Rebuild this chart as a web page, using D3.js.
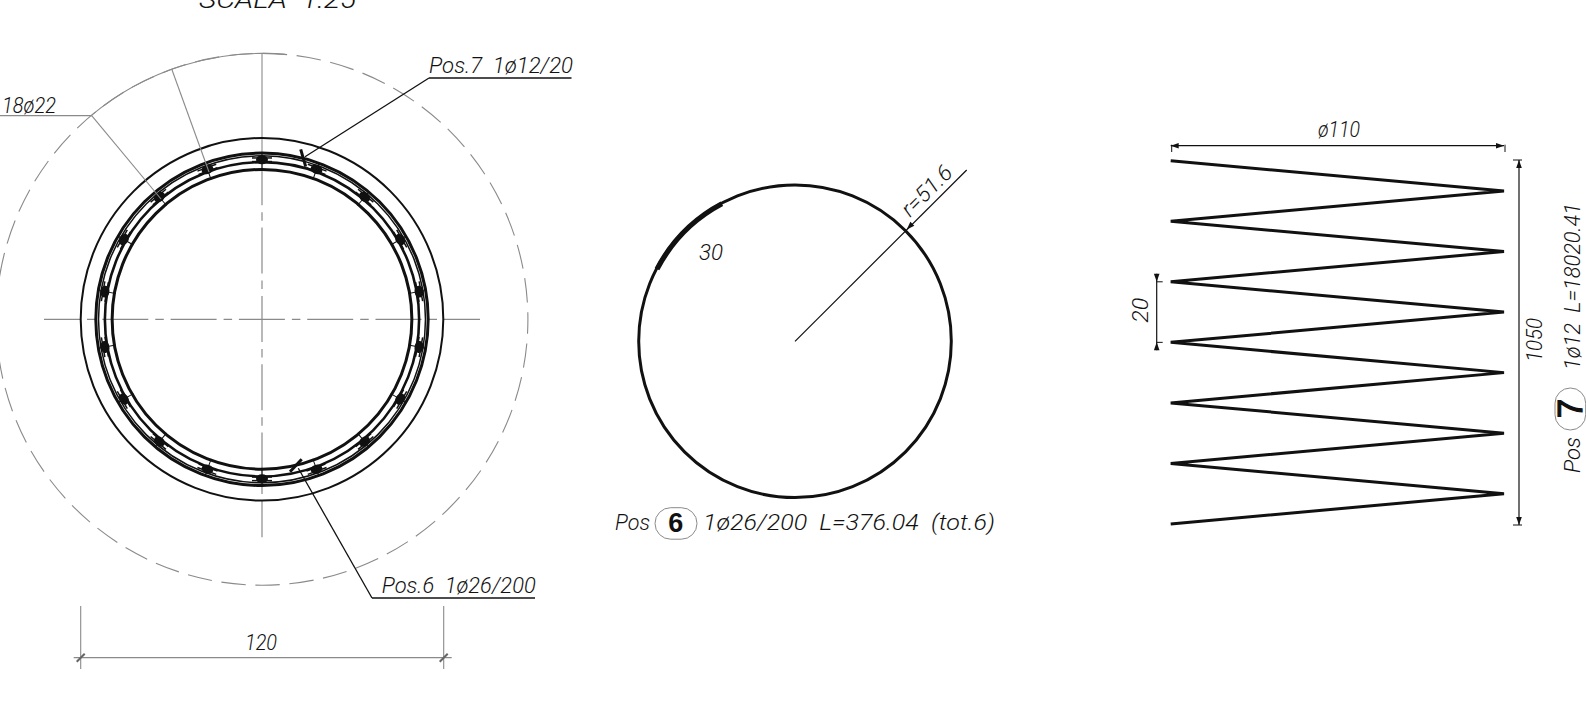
<!DOCTYPE html>
<html>
<head>
<meta charset="utf-8">
<script src="https://cdn.jsdelivr.net/npm/d3@7"></script>
<style>
  html, body { margin: 0; padding: 0; background: #fff; }
  svg { display: block; }
  text { font-family: Roboto, "Liberation Sans", sans-serif; font-style: italic; font-weight: 300; fill: #111; white-space: pre; }
</style>
</head>
<body>
<div id="chart"></div>
<script>
// section of the pile (cm)
var ringRadii = [60, 55, 54.1, 52, 49.6];
var ringWidths = [2, 3, 1.5, 2.6, 3];
var copRadius = 88;
var barRadius = 52.8;
var barAngles = [0, 20, 40, 60, 80, 100, 120, 140, 160, 180, 200, 220, 240, 260, 280, 300, 320, 340];

// stirrup (Pos 6)
var stirrupRadius = 51.6;
var overlapArc = [-62.4, -28];

// spiral (Pos 7)
var spiralX = [0, 110, 0, 110, 0, 110, 0, 110, 0, 110, 0, 110, 0];
var spiralY = [0, 10, 20, 30, 40, 50, 60, 70, 80, 90, 100, 110, 120];

// labels
var titleLabel = "SCALA  1:25";
var barLabel = "18ø22";
var pos7Label = "Pos.7  1ø12/20";
var pos6Label = "Pos.6  1ø26/200";
var widthLabel = "120";
var radiusLabel = "r=51.6";
var arcLabel = "30";
var pos6Caption = "1ø26/200  L=376.04  (tot.6)";
var spiralWidthLabel = "ø110";
var pitchLabel = "20";
var heightLabel = "1050";
var pos7Caption = "1ø12  L=18020.41";

var svgWidth = 1586;
var svgHeight = 702;
var gray = "#8a8a8a";
var black = "#111";

var svg = d3.select("#chart")
    .append("svg")
    .attr("width", svgWidth)
    .attr("height", svgHeight);

function label(g, txt, x, y, size, len, rot) {
    return g.append("text")
        .attr("transform", `translate(${x}, ${y})` + (rot ? ` rotate(${rot})` : ""))
        .attr("font-size", size)
        .attr("textLength", len)
        .attr("lengthAdjust", "spacingAndGlyphs")
        .text(txt);
}

function line(g, x1, y1, x2, y2, color, w) {
    return g.append("line")
        .attr("x1", x1).attr("y1", y1)
        .attr("x2", x2).attr("y2", y2)
        .attr("stroke", color)
        .attr("stroke-width", w);
}

// small filled arrow head with the tip at x, y
function arrow(g, x, y, deg) {
    g.append("path")
        .attr("d", "M0,0L-8,-2.8L-8,2.8Z")
        .attr("transform", `translate(${x}, ${y}) rotate(${deg})`)
        .attr("fill", black);
}

// ---- title, cut by the top of the page
label(svg, titleLabel, 199, 8, 26, 157);

// ---- left section
var cx = 262, cy = 319.3;
var r = d3.scaleLinear().domain([0, 60]).range([0, 181.3]);
var section = svg.append("g").attr("transform", `translate(${cx}, ${cy})`);
var arc = d3.arc();
var rad = d3.scaleLinear().domain([0, 180]).range([0, Math.PI]);

// concrete cover circle: dashed, solid over the leader part
section.append("circle")
    .attr("r", r(copRadius))
    .attr("fill", "none")
    .attr("stroke", gray)
    .attr("stroke-width", 1.1)
    .attr("stroke-dasharray", "24.5 9.64")
    .attr("stroke-dashoffset", -24.16);
section.append("path")
    .attr("d", arc({innerRadius: r(copRadius), outerRadius: r(copRadius), startAngle: rad(-40), endAngle: rad(5)}))
    .attr("fill", "none")
    .attr("stroke", gray)
    .attr("stroke-width", 1.1);

// center lines
var centerDash = "46 7 8.5 6.8";
line(section, -218, 0, 218, 0, gray, 1.2)
    .attr("stroke-dasharray", centerDash)
    .attr("stroke-dashoffset", 10);
line(section, 0, -160, 0, 218, gray, 1.2)
    .attr("stroke-dasharray", centerDash);
line(section, 0, -266, 0, -160, gray, 1.1);

section.selectAll("circle.ring")
    .data(ringRadii)
    .enter()
    .append("circle")
    .attr("class", "ring")
    .attr("r", d => r(d))
    .attr("fill", "none")
    .attr("stroke", black)
    .attr("stroke-width", (d, i) => ringWidths[i]);

var bars = section.selectAll("g.bar")
    .data(barAngles)
    .enter()
    .append("g")
    .attr("class", "bar")
    .attr("transform", d => `rotate(${d}) translate(0, ${-r(barRadius)})`);
bars.append("ellipse").attr("rx", 6).attr("ry", 4.6).attr("fill", black);
bars.append("line").attr("x1", -10).attr("x2", 10).attr("y1", -1.8).attr("y2", -1.8).attr("stroke", black).attr("stroke-width", 1.5);
bars.append("line").attr("x1", -10).attr("x2", 10).attr("y1", 1.8).attr("y2", 1.8).attr("stroke", black).attr("stroke-width", 1.5);
bars.append("line").attr("y1", -7).attr("y2", 11).attr("stroke", black).attr("stroke-width", 1);

// leaders to the bars
line(svg, 0, 115.7, 91.7, 115.7, gray, 1.2);
line(svg, 91.7, 115.7, 161, 199, gray, 1.1);
line(svg, 171.7, 69, 209, 172, gray, 1.1);
label(svg, barLabel, 2, 113, 22, 54);

// Pos.7 leader
line(svg, 305, 156.7, 429, 78, black, 1.3);
line(svg, 429, 78, 571.5, 78, black, 1.5);
line(svg, 300.7, 149.3, 305.7, 166.7, black, 3);
label(svg, pos7Label, 429, 73, 22, 144);

// Pos.6 leader
line(svg, 298.3, 468.3, 372, 598, black, 1.3);
line(svg, 372, 598, 535, 598, black, 1.5);
line(svg, 301.7, 459.3, 290, 471.7, black, 3);
label(svg, pos6Label, 381.7, 592.7, 22, 154);

// dimension 120
var dimY = 657.7;
var xDim = d3.scaleLinear().domain([0, 120]).range([80.7, 443.7]);
line(svg, xDim(0) - 7, dimY, xDim(120) + 8, dimY, gray, 1.2);
[0, 120].forEach(function(d) {
    line(svg, xDim(d), 606, xDim(d), 669, gray, 1.1);
    line(svg, xDim(d) - 4, dimY + 4, xDim(d) + 4, dimY - 4, "#666", 2);
});
label(svg, widthLabel, 245, 650, 22, 32);

// ---- stirrup
var mx = 795, my = 341.3;
var rs = d3.scaleLinear().domain([0, stirrupRadius]).range([0, 156.3]);
var stirrup = svg.append("g").attr("transform", `translate(${mx}, ${my})`);
stirrup.append("circle")
    .attr("r", rs(stirrupRadius))
    .attr("fill", "none")
    .attr("stroke", black)
    .attr("stroke-width", 3);
stirrup.append("path")
    .attr("d", arc({innerRadius: rs(stirrupRadius) - 3.2, outerRadius: rs(stirrupRadius) + 2, startAngle: rad(overlapArc[0]), endAngle: rad(overlapArc[1])}))
    .attr("fill", black);
line(svg, mx, my, 966.7, 170, black, 1.2);
arrow(svg, 906.7, 229.5, 135);
label(svg, radiusLabel, 910, 218, 22, 62, -45);
label(svg, arcLabel, 699, 260, 22, 24);

// caption Pos 6
label(svg, "Pos", 615, 530, 22, 35);
svg.append("rect")
    .attr("x", 655).attr("y", 507.7)
    .attr("width", 42).attr("height", 31.5)
    .attr("rx", 15.7)
    .attr("fill", "none")
    .attr("stroke", gray)
    .attr("stroke-width", 1);
svg.append("text")
    .attr("x", 675.7).attr("y", 532)
    .attr("text-anchor", "middle")
    .attr("font-size", 27)
    .style("font-family", "'Liberation Sans'")
    .style("font-style", "normal")
    .style("font-weight", 700)
    .text("6");
label(svg, pos6Caption, 703, 530, 22, 292);

// ---- spiral
var xSpiral = d3.scaleLinear().domain([0, 110]).range([1170.7, 1504]);
var ySpiral = d3.scaleLinear().domain([0, 120]).range([160.7, 524]);
var spiralLine = d3.line()
    .x(d => xSpiral(d[0]))
    .y(d => ySpiral(d[1]));
svg.append("path")
    .attr("d", spiralLine(d3.zip(spiralX, spiralY)))
    .attr("fill", "none")
    .attr("stroke", black)
    .attr("stroke-width", 3)
    .attr("stroke-linejoin", "miter")
    .attr("stroke-miterlimit", 2);

// width dimension
var topY = 145.7;
line(svg, xSpiral(0), topY, xSpiral(110), topY, black, 1.2);
arrow(svg, xSpiral(0), topY, 180);
arrow(svg, xSpiral(110), topY, 0);
line(svg, xSpiral(0) + 1, topY - 1, xSpiral(0) + 1, 152, black, 1);
line(svg, xSpiral(110) + 1, topY - 1, xSpiral(110) + 1, 152, black, 1);
label(svg, spiralWidthLabel, 1318, 136.7, 22, 42);

// height dimension
var rightX = 1519;
line(svg, rightX, 160, rightX, 525, black, 1.2);
arrow(svg, rightX, 160, -90);
arrow(svg, rightX, 525, 90);
line(svg, rightX - 6, 160, rightX + 3, 160, black, 1);
line(svg, rightX - 6, 525, rightX + 3, 525, black, 1);
label(svg, heightLabel, 1542, 362, 22, 44, -90);

// pitch dimension
var pitchX = 1156.7;
line(svg, pitchX, ySpiral(40) - 8, pitchX, ySpiral(60) + 8, black, 1.2);
arrow(svg, pitchX, ySpiral(40), 90);
arrow(svg, pitchX, ySpiral(60), -90);
line(svg, pitchX, ySpiral(40), pitchX + 6, ySpiral(40), black, 1);
line(svg, pitchX, ySpiral(60), pitchX + 6, ySpiral(60), black, 1);
label(svg, pitchLabel, 1148, 322.7, 22, 25, -90);

// caption Pos 7
label(svg, "Pos", 1580, 473, 22, 36, -90);
svg.append("rect")
    .attr("x", 1555).attr("y", 388)
    .attr("width", 30.7).attr("height", 42)
    .attr("rx", 15.3)
    .attr("fill", "none")
    .attr("stroke", gray)
    .attr("stroke-width", 1);
svg.append("text")
    .attr("transform", "translate(1582, 408.5) rotate(-90)")
    .attr("text-anchor", "middle")
    .attr("font-size", 35)
    .style("font-family", "'Liberation Sans'")
    .style("font-style", "normal")
    .style("font-weight", 400)
    .style("stroke", "#111")
    .style("stroke-width", 1.2)
    .text("7");
label(svg, pos7Caption, 1580, 370, 22, 167, -90);
</script>
</body>
</html>
